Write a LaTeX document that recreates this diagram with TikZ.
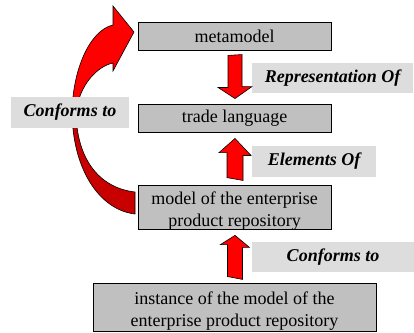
\documentclass[tikz,border=0pt]{standalone}
\usepackage{fontspec}
\setmainfont{Liberation Serif}
\usetikzlibrary{calc}
\definecolor{boxgray}{HTML}{C0C0C0}
\definecolor{labgray}{HTML}{DDDDDD}
\definecolor{darkred}{HTML}{C80000}
\tikzset{
  mbox/.style={draw=black, line width=0.9pt, fill=boxgray, inner sep=0pt, align=center,
    font=\fontsize{18}{22}\selectfont},
  lbl/.style={fill=labgray, inner sep=0pt, align=center,
    font=\fontsize{18}{22}\selectfont\bfseries\itshape},
  blk/.style={fill=red, draw=black, line width=0.6pt, line join=miter},
}
\begin{document}
\begin{tikzpicture}[x=1pt,y=-1pt]
\useasboundingbox (0,0) rectangle (414,332);
% curved arrow
\draw[fill=darkred, draw=black, line width=0.6pt]
  (72,110) .. controls (72,170) and (100,210) .. (135,214) -- (135,192)
  .. controls (100,188) and (76,160) .. (76,110) -- cycle;
\draw[fill=red, draw=black, line width=0.6pt, line join=miter]
  (72,115) .. controls (72,70) and (90,30) .. (113,25) -- (113,6) -- (134,32)
  -- (113,71) -- (113,63) .. controls (98,66) and (78,85) .. (76,115) -- cycle;
% left label
\node[lbl, minimum width=118pt, minimum height=31pt] (confl) at (70,112.5) {Conforms to};
% boxes
\node[mbox, minimum width=193pt, minimum height=28pt] (meta) at (234.5,36) {metamodel};
\node[mbox, minimum width=193pt, minimum height=28pt] (trade) at (234.5,118) {trade language};
\node[mbox, minimum width=193pt, minimum height=41pt] (model) at (234.5,207.5) {\rule{0pt}{19pt}model of the enterprise\\product repository};
\node[mbox, minimum width=283pt, minimum height=48pt] (inst) at (234.5,307) {\rule{0pt}{20pt}instance of the model of the\\enterprise product repository};
% labels
\node[lbl, minimum width=161pt, minimum height=30pt] (rep) at (332.5,78) {Representation Of};
\node[lbl, minimum width=124pt, minimum height=31pt] (elem) at (314,161.5) {Elements Of};
\node[lbl, minimum width=162pt, minimum height=30pt] (confr) at (333,257) {Conforms to};
% block arrows
\coordinate (s1) at ($(meta.south)+(0.5,5)$);
\coordinate (t1) at ($(trade.north)+(0.5,-5)$);
\draw[blk] (s1) ++(-7,0) -- ++(0,32) -- ++(-10,0) -- (t1) -- ++(17,-12) -- ++(-10,0) -- ++(0,-32) -- cycle;
\coordinate (s2) at ($(model.north)+(0.5,-7)$);
\coordinate (t2) at ($(trade.south)+(0.5,6)$);
\draw[blk] (s2) ++(-8,0) -- ++(0,-25) -- ++(-8,0) -- (t2) -- ++(16,17) -- ++(-8,0) -- ++(0,25) -- cycle;
\coordinate (s3) at ($(inst.north)+(0.5,-6)$);
\coordinate (t3) at ($(model.south)+(0.5,5)$);
\draw[blk] (s3) ++(-7.5,0) -- ++(0,-32) -- ++(-7,0) -- (t3) -- ++(14.5,12) -- ++(-7,0) -- ++(0,32) -- cycle;
\end{tikzpicture}
\end{document}
